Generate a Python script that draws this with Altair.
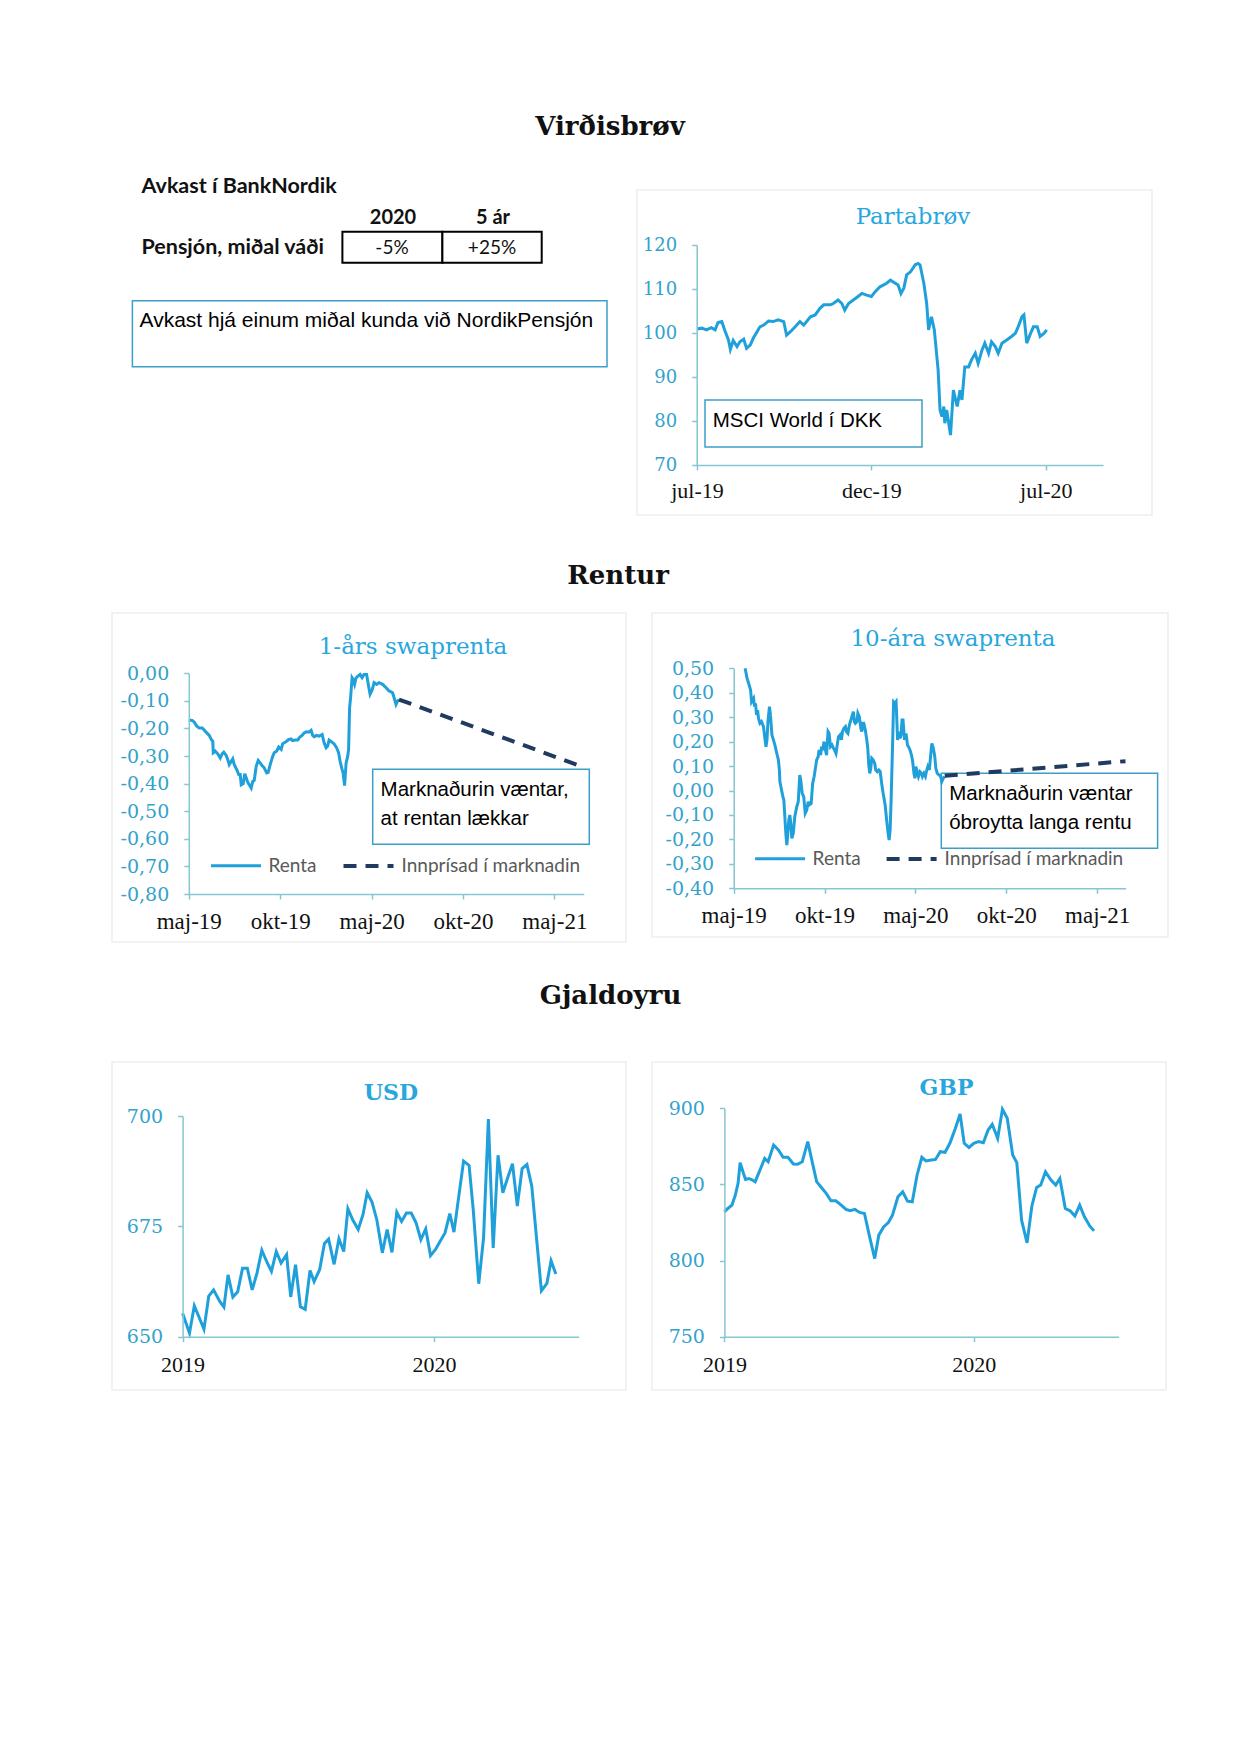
import altair as alt
import pandas as pd

W, H = 1224, 1420
M = 8


def px(v):
    return v - M


BLUE = "#1fa0db"
NAVY = "#203a60"
AXC = "#86c5d2"
YLAB = "#33a2cc"
TITC = "#29a7dd"
BOXC = "#3b9fc8"
FRAME = "#eeeeee"

# ---------------- data ----------------
# Partabrøv (MSCI World í DKK), day offset from 1 Jul 2019
parta_days = [0, 5, 10, 15, 19, 22, 26, 29, 33, 35, 38, 42, 45, 49, 52, 56, 59, 63, 66, 70,
              75, 80, 85, 91, 94, 98, 103, 108, 112, 119, 124, 129, 133, 140, 143, 148, 152, 155, 159, 164,
              169, 173, 178, 183, 187, 192, 199, 203, 208, 211, 214, 217, 220, 224, 229, 232, 234, 238, 241, 243,
              246, 249, 252, 253, 255, 257, 259, 260, 262, 266, 269, 273, 276, 278, 281, 285, 288, 292, 295, 299,
              302, 306, 309, 313, 316, 320, 325, 330, 334, 337, 341, 343, 346, 350, 353, 357, 360, 364, 367]
parta_vals = [100.9, 101.1, 100.7, 101.2, 100.7, 102.4, 102.6, 100.7, 98.4, 96.3, 98.3, 96.9, 98.0, 98.6, 96.5, 97.3, 98.8, 100.3, 101.4, 101.8,
              102.7, 102.6, 103.0, 102.6, 99.5, 100.3, 101.4, 102.6, 101.8, 103.7, 104.1, 105.6, 106.4, 106.4, 106.7, 107.5, 106.7, 105.2, 106.7, 107.5,
              108.3, 109.0, 108.6, 108.3, 109.4, 110.5, 111.3, 112.0, 111.3, 110.9, 109.0, 110.2, 113.2, 113.9, 115.5, 115.8, 115.5, 111.3, 106.7, 100.7,
              103.7, 100.7, 93.9, 91.6, 82.5, 81.0, 83.3, 79.5, 82.5, 76.8, 87.0, 83.3, 87.0, 84.8, 92.3, 92.3, 93.9, 95.4, 93.1, 96.1,
              97.7, 95.4, 98.0, 96.9, 95.4, 97.7, 98.4, 99.2, 99.9, 101.4, 103.7, 104.1, 97.7, 99.9, 101.4, 101.4, 99.2, 99.9, 100.7]

# 1-års swaprenta, day offset from 1 May 2019
one_days = [0, 7, 11, 16, 21, 27, 31, 36, 41, 45, 48, 49, 53, 58, 63, 67, 70, 75, 78, 81,
            85, 88, 91, 96, 100, 103, 105, 109, 112, 115, 118, 121, 125, 128, 131, 135, 139, 143, 147, 151,
            156, 159, 163, 168, 171, 176, 180, 185, 188, 193, 196, 200, 205, 208, 213, 218, 223, 227, 231, 236,
            241, 245, 248, 251, 256, 261, 267, 271, 275, 278, 281, 287, 291, 296, 300, 303, 307, 309, 312, 315,
            318, 320, 322, 324, 327, 329, 332, 335, 339, 343, 347, 351, 356, 360, 363, 367, 371, 376, 381, 388,
            395, 401, 408, 411, 415, 418, 421]
one_vals = [-0.170, -0.171, -0.177, -0.192, -0.198, -0.198, -0.206, -0.216, -0.225, -0.240,
            -0.246, -0.288, -0.282, -0.292, -0.307, -0.291, -0.286, -0.298, -0.313, -0.331,
            -0.319, -0.310, -0.331, -0.349, -0.367, -0.367, -0.404, -0.400, -0.364, -0.379,
            -0.395, -0.404, -0.416, -0.392, -0.388, -0.337, -0.316, -0.325, -0.335, -0.343,
            -0.361, -0.359, -0.331, -0.301, -0.288, -0.282, -0.267, -0.276, -0.255, -0.250,
            -0.246, -0.240, -0.238, -0.244, -0.242, -0.242, -0.230, -0.225, -0.216, -0.212,
            -0.213, -0.207, -0.225, -0.230, -0.225, -0.228, -0.222, -0.252, -0.270, -0.264,
            -0.242, -0.250, -0.256, -0.270, -0.288, -0.319, -0.349, -0.361, -0.407, -0.325,
            -0.303, -0.276, -0.125, -0.088, -0.016, -0.022, -0.040, -0.016, -0.010, -0.004,
            -0.016, -0.004, -0.004, -0.046, -0.076, -0.061, -0.034, -0.040, -0.034, -0.040,
            -0.052, -0.064, -0.070, -0.088, -0.113, -0.101, -0.095]
one_fwd_days = [421, 790]
one_fwd_vals = [-0.095, -0.340]

# 10-ára swaprenta, day offset from 1 May 2019
ten_days = [23, 27, 31, 34, 36, 40, 42, 44, 46, 48, 50, 53, 56, 60, 62, 65, 67, 69, 72, 74,
            77, 80, 83, 86, 90, 92, 93, 95, 99, 101, 103, 105, 107, 109, 111, 113, 115, 117, 120, 123,
            127, 130, 133, 135, 138, 141, 144, 147, 150, 152, 156, 159, 162, 164, 167, 170, 172, 175, 177, 179,
            182, 184, 187, 190, 192, 195, 198, 201, 203, 206, 209, 211, 214, 217, 219, 222, 225, 227, 230, 233,
            235, 238, 241, 243, 245, 248, 250, 253, 256, 258, 260, 262, 265, 268, 270, 272, 274, 276, 278, 281,
            284, 286, 289, 292, 295, 298, 301, 305, 308, 311, 313, 315, 317, 320, 322, 325, 327, 328, 330, 333,
            335, 337, 339, 341, 344, 347, 350, 352, 355, 358, 360, 363, 365, 367, 370, 372, 375, 378, 380, 383,
            386, 388, 391, 394, 397, 399, 402, 405, 407, 410, 414, 417, 419, 422, 425]
ten_vals = [0.500, 0.459, 0.432, 0.411, 0.363, 0.377, 0.343, 0.357, 0.309, 0.329, 0.295, 0.275, 0.282, 0.261, 0.227, 0.179, 0.207, 0.282, 0.343, 0.309,
            0.227, 0.207, 0.186, 0.159, 0.125, 0.084, 0.036, 0.016, -0.025, -0.039, -0.107, -0.175, -0.223, -0.175, -0.121, -0.100, -0.134, -0.196, -0.175, -0.107,
            -0.066, -0.046, 0.063, 0.043, -0.012, -0.025, -0.093, -0.080, -0.046, -0.059, -0.053, 0.029, 0.057, 0.084, 0.125, 0.138, 0.166, 0.145, 0.179, 0.166,
            0.200, 0.173, 0.145, 0.241, 0.234, 0.179, 0.186, 0.173, 0.166, 0.152, 0.193, 0.220, 0.227, 0.207, 0.241, 0.254, 0.261, 0.241, 0.234, 0.268,
            0.282, 0.302, 0.323, 0.282, 0.275, 0.282, 0.316, 0.302, 0.254, 0.241, 0.275, 0.275, 0.248, 0.207, 0.173, 0.104, 0.070, 0.091, 0.132, 0.125,
            0.111, 0.084, 0.077, 0.084, 0.077, 0.029, -0.012, -0.059, -0.121, -0.175, -0.203, -0.162, -0.039, 0.193, 0.363, 0.357, 0.363, 0.316, 0.207, 0.241,
            0.213, 0.227, 0.288, 0.288, 0.207, 0.234, 0.186, 0.179, 0.166, 0.145, 0.125, 0.070, 0.050, 0.098, 0.070, 0.057, 0.077, 0.070, 0.057, 0.070,
            0.057, 0.077, 0.098, 0.084, 0.152, 0.193, 0.173, 0.138, 0.091, 0.070, 0.063, 0.057, 0.036, 0.050, 0.057]
ten_fwd_days = [425, 789]
ten_fwd_vals = [0.060, 0.120]

# USD (DKK per 100 USD), day offset from 1 Jan 2019
usd_days = [0, 10, 17, 31, 38, 45, 54, 60, 66, 73, 80, 87, 94, 101, 108, 115, 123, 129, 136, 143,
            151, 157, 164, 171, 178, 185, 191, 199, 206, 212, 220, 227, 234, 240, 247, 255, 262, 268, 275, 282,
            290, 297, 304, 311, 318, 325, 332, 339, 346, 353, 360, 367, 374, 381, 388, 394, 401, 408, 416, 422,
            430, 437, 444, 451, 458, 465, 472, 479, 486, 493, 500, 507, 515, 521, 529, 535, 542]
usd_vals = [655.3, 650.8, 657.0, 651.7, 659.2, 660.6, 658.0, 656.7, 664.0, 659.0, 660.2, 665.5, 665.5, 660.6, 664.4, 669.6, 666.7, 664.8, 669.3, 666.7,
            668.6, 659.0, 666.3, 656.8, 656.2, 665.0, 662.5, 665.2, 671.1, 672.1, 666.4, 672.2, 669.3, 679.0, 676.5, 674.3, 677.7, 682.6, 680.5, 676.5,
            669.0, 674.3, 669.1, 678.2, 676.1, 678.0, 678.0, 675.8, 672.0, 674.4, 668.4, 669.7, 671.6, 673.5, 677.9, 673.7, 681.8, 689.8, 688.8, 678.8,
            662.0, 672.4, 699.3, 670.1, 691.1, 682.6, 686.0, 689.2, 679.6, 688.1, 689.0, 684.1, 670.5, 660.4, 662.1, 667.2, 664.2]

# GBP (DKK per 100 GBP), day offset from 1 Jan 2019
gbp_days = [0, 5, 11, 16, 20, 23, 28, 31, 36, 41, 45, 49, 54, 59, 64, 72, 79, 86, 93, 101,
            107, 114, 122, 129, 135, 142, 149, 156, 163, 171, 178, 184, 191, 198, 205, 212, 220, 226, 233, 240,
            246, 254, 261, 268, 275, 282, 289, 295, 303, 309, 316, 323, 330, 338, 345, 351, 358, 365, 372, 379,
            386, 392, 400, 407, 414, 422, 428, 435, 443, 450, 457, 463, 470, 478, 485, 491, 499, 506, 513, 520,
            527, 535, 541]
gbp_vals = [832.0, 834.2, 836.4, 843.0, 850.7, 864.3, 857.2, 853.3, 853.9, 852.9, 851.8, 856.1, 861.6, 867.1, 864.9, 875.9, 872.6, 867.8, 867.8, 863.4,
            863.2, 864.9, 878.1, 863.8, 851.8, 848.0, 844.1, 839.3, 839.3, 836.4, 833.6, 832.7, 833.6, 831.6, 830.9, 816.7, 801.3, 816.7, 822.1, 825.0,
            829.8, 841.9, 845.2, 839.0, 838.6, 856.1, 867.8, 865.4, 866.0, 866.4, 871.5, 871.1, 877.0, 886.8, 896.3, 877.0, 874.3, 877.0, 878.1, 877.4,
            885.7, 889.5, 880.3, 899.3, 893.4, 869.3, 864.3, 826.5, 811.6, 835.7, 848.0, 849.6, 858.3, 852.9, 849.6, 853.9, 834.2, 832.7, 829.2, 836.4,
            828.7, 822.6, 819.5]

series_names = ["Renta", "Innprísad í marknadin"]
month_names = ["jan", "feb", "mar", "apr", "maj", "jun", "jul", "aug", "sep", "okt", "nov", "dec"]

headings = ["Virðisbrøv", "Rentur", "Gjaldoyru"]
panel_titles = ["Partabrøv", "1-års swaprenta", "10-ára swaprenta"]
fx_titles = ["USD", "GBP"]
table_cols = ["2020", "5 ár"]
table_vals = ["-5%", "+25%"]

# ---------------- helpers ----------------


def frame(start, days, vals, series=None):
    dates = (pd.Timestamp(start) + pd.to_timedelta(days, unit="D")).strftime("%Y-%m-%d")
    df = pd.DataFrame({"date": list(dates), "v": vals})
    if series is not None:
        df["series"] = series
    return df


def dt(s):
    t = pd.Timestamp(s)
    return alt.DateTime(year=t.year, month=t.month, date=t.day, utc=True)


MONTH_EXPR = ("['" + "','".join(month_names) + "'][utcmonth(datum.value)] + '-' + utcFormat(datum.value, '%y')")
YEAR_EXPR = "utcFormat(datum.value, '%Y')"
DEC_EXPR = "(datum.value < -0.000001 ? '-' : '') + replace(format(abs(datum.value), '.2f'), '.', ',')"


def x_enc(x0, x1, d0, d1, ticks, expr, yaxis, pad, size=22):
    axis = alt.Axis(orient="bottom", offset=px(yaxis) - H, values=[dt(t) for t in ticks],
                    labelExpr=expr, title=None, grid=False, domainColor=AXC, domainWidth=1.5,
                    tickColor=AXC, tickWidth=1.5, tickSize=5, labelFont="Liberation Serif",
                    labelFontSize=size, labelColor="#111111", labelPadding=pad,
                    labelFlush=False, labelOverlap=False, zindex=1)
    return alt.X("date:T", axis=axis,
                 scale=alt.Scale(type="utc", domain=[dt(d0), dt(d1)], range=[px(x0), px(x1)], nice=False))


def y_enc(y0, y1, lo, hi, ticks, xaxis, expr=None, size=19):
    kw = dict(orient="left", offset=-px(xaxis), values=ticks, title=None, grid=False,
              domainColor=AXC, domainWidth=1.5, tickColor=AXC, tickWidth=1.5, tickSize=5,
              labelFont="DejaVu Serif", labelFontSize=size, labelColor=YLAB, labelPadding=15,
              labelOverlap=False, labelFlush=False, zindex=1)
    if expr:
        kw["labelExpr"] = expr
    return alt.Y("v:Q", axis=alt.Axis(**kw),
                 scale=alt.Scale(domain=[lo, hi], range=[px(y0), px(y1)], nice=False, zero=False))


def leg(x, y, cpad):
    return alt.Legend(orient="none", legendX=px(x), legendY=px(y), direction="horizontal",
                      title=None, symbolType="stroke", symbolSize=2500, symbolStrokeWidth=3,
                      labelFont="Lato", labelFontSize=19, labelColor="#595959", labelOffset=6,
                      labelLimit=500, columnPadding=cpad, padding=0)


def pos(df):
    return dict(x=alt.X("x:Q", scale=None, axis=None), y=alt.Y("y:Q", scale=None, axis=None))


def texts(items, **mk):
    df = pd.DataFrame({"t": [i[0] for i in items], "x": [px(i[1]) for i in items],
                       "y": [px(i[2]) for i in items]})
    return alt.Chart(df).mark_text(baseline="middle", **mk).encode(text="t:N", **pos(df))


def rects(items, **mk):
    df = pd.DataFrame({"x": [px(i[0]) for i in items], "x2": [px(i[1]) for i in items],
                       "y": [px(i[2]) for i in items], "y2": [px(i[3]) for i in items]})
    return alt.Chart(df).mark_rect(**mk).encode(x2="x2:Q", y2="y2:Q", **pos(df))


# ---------------- decorations ----------------
frames = rects([(637, 1152, 190, 515), (112, 626, 613, 942), (652, 1168, 613, 937),
                (112, 626, 1062, 1390), (652, 1166, 1062, 1390)],
               fill="white", fillOpacity=0, stroke=FRAME, strokeWidth=1.5)
boxes = rects([(132.4, 607, 300.7, 366.7), (705, 922, 400, 447), (372.7, 589.3, 769.3, 844.3),
               (941.3, 1157.6, 773.3, 848.3)], fill="white", stroke=BOXC, strokeWidth=1.5)
cells = rects([(342.4, 442.4, 231.7, 262.7), (442.4, 541.7, 231.7, 262.7)],
              fill="white", stroke="#000000", strokeWidth=2)

head_t = texts([(headings[0], 610, 127), (headings[1], 618, 576), (headings[2], 610.5, 996)],
               font="DejaVu Serif", fontWeight="bold", fontSize=26, color="#111111", align="center")
title_t = texts([(panel_titles[0], 913, 217), (panel_titles[1], 413, 647), (panel_titles[2], 953, 639)],
                font="DejaVu Serif", fontSize=23, color=TITC, align="center")
fx_t = texts([(fx_titles[0], 391, 1093), (fx_titles[1], 946.5, 1088)],
             font="DejaVu Serif", fontWeight="bold", fontSize=22, color=TITC, align="center")
bold_left = texts([("Avkast í BankNordik", 141.5, 187), ("Pensjón, miðal váði", 141.5, 248)],
                  font="Lato", fontWeight="bold", fontSize=21.5, color="#111111", align="left")
bold_center = texts([(table_cols[0], 393, 218), (table_cols[1], 493, 218)],
                    font="Lato", fontWeight="bold", fontSize=20, color="#111111", align="center")
cell_t = texts([(table_vals[0], 392, 248), (table_vals[1], 492, 248)],
               font="Lato", fontSize=19, color="#111111", align="center")
top_box_t = texts([("Avkast hjá einum miðal kunda við NordikPensjón", 139.5, 321)],
                  font="Liberation Sans", fontSize=21, color="#000000", align="left")
box_t = texts([("MSCI World í DKK", 712.7, 421),
               ("Marknaðurin væntar,", 380.6, 790), ("at rentan lækkar", 380.6, 819),
               ("Marknaðurin væntar", 949.2, 794), ("óbroytta langa rentu", 949.2, 823)],
              font="Liberation Sans", fontSize=20.5, color="#000000", align="left")

# ---------------- charts ----------------
parta = alt.Chart(frame("2019-07-01", parta_days, parta_vals)).mark_line(
    color=BLUE, strokeWidth=3).encode(
    x=x_enc(697, 1103, "2019-07-01", "2020-08-30", ["2019-07-01", "2019-12-31", "2020-07-01"],
            MONTH_EXPR, 465, 10),
    y=y_enc(465, 245, 70, 120, [70, 80, 90, 100, 110, 120], 696.7, size=18))


def swap_chart(start, days, vals, fdays, fvals, xr, end, yr, dom, ticks, legxy, cpad):
    df = pd.concat([frame(start, days, vals, series_names[0]),
                    frame(start, fdays, fvals, series_names[1])])
    L = leg(legxy[0], legxy[1], cpad)
    return alt.Chart(df).mark_line().encode(
        x=x_enc(xr[0], xr[1], start, end,
                ["2019-05-01", "2019-10-31", "2020-05-01", "2020-10-31", "2021-05-02"],
                MONTH_EXPR, yr[0], 11, 23),
        y=y_enc(yr[0], yr[1], dom[0], dom[1], ticks, xr[0], DEC_EXPR),
        color=alt.Color("series:N", scale=alt.Scale(domain=series_names, range=[BLUE, NAVY]), legend=L),
        strokeDash=alt.StrokeDash("series:N", scale=alt.Scale(domain=series_names, range=[[1, 0], [13, 9]]),
                                  legend=L),
        strokeWidth=alt.StrokeWidth("series:N", scale=alt.Scale(domain=series_names, range=[3, 4]),
                                    legend=None),
    )


one = swap_chart("2019-05-01", one_days, one_vals, one_fwd_days, one_fwd_vals,
                 (188.8, 583.8), "2021-06-30", (894, 673.3), (-0.8, 0.0),
                 [0.0, -0.1, -0.2, -0.3, -0.4, -0.5, -0.6, -0.7, -0.8], (209.5, 865 - 26), 18)
ten = swap_chart("2019-05-01", ten_days, ten_vals, ten_fwd_days, ten_fwd_vals,
                 (733.7, 1125.5), "2021-06-28", (888.3, 668.3), (-0.4, 0.5),
                 [0.5, 0.4, 0.3, 0.2, 0.1, 0.0, -0.1, -0.2, -0.3, -0.4], (753.6, 858 - 26), 17)

usd = alt.Chart(frame("2019-01-01", usd_days, usd_vals)).mark_line(color=BLUE, strokeWidth=3).encode(
    x=x_enc(182.6, 578.6, "2019-01-01", "2020-07-29", ["2019-01-01", "2020-01-01"], YEAR_EXPR, 1336.7, 13, 22),
    y=y_enc(1336.7, 1116, 650, 700, [650, 675, 700], 182.6))
gbp = alt.Chart(frame("2019-01-01", gbp_days, gbp_vals)).mark_line(color=BLUE, strokeWidth=3).encode(
    x=x_enc(724.4, 1118.6, "2019-01-01", "2020-07-31", ["2019-01-01", "2020-01-01"], YEAR_EXPR, 1336.7, 13, 22),
    y=y_enc(1336.7, 1108.3, 750, 900, [750, 800, 850, 900], 724.4))

chart = alt.layer(
    frames, boxes, cells, head_t, title_t, fx_t, bold_left, bold_center, cell_t, top_box_t, box_t,
    parta, one, ten, usd, gbp
).properties(width=W, height=H, padding=0, background="white").resolve_scale(
    x="independent", y="independent", color="independent", strokeDash="independent",
    strokeWidth="independent"
).resolve_axis(x="independent", y="independent").resolve_legend(
    color="independent", strokeDash="independent"
).configure_view(stroke=None)

chart.save("out.html", embed_options={"renderer": "svg", "actions": False})
